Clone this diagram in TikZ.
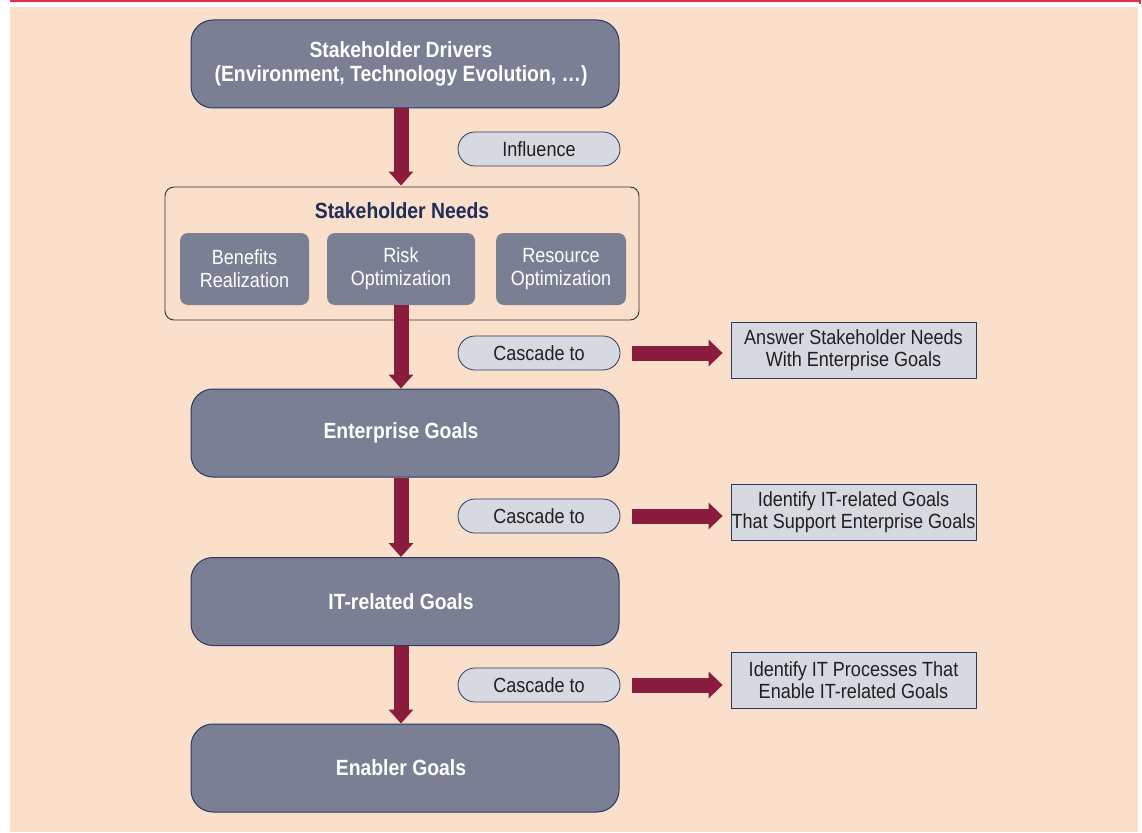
\documentclass[tikz,border=0pt]{standalone}
\usepackage{fontspec}
\setmainfont{Liberation Sans}[FakeStretch=0.88]
\usetikzlibrary{arrows.meta}
\definecolor{bg}{HTML}{FADFCA}
\definecolor{boxgrey}{HTML}{7A7F93}
\definecolor{navy}{HTML}{2B3868}
\definecolor{maroon}{HTML}{8A1C3E}
\definecolor{pill}{HTML}{D6D9DF}
\definecolor{topred}{HTML}{E2304A}
\definecolor{titlenavy}{HTML}{1F2C5C}
\definecolor{ink}{HTML}{231F20}
\tikzset{
  bigbox/.style={draw=navy, line width=1pt, fill=boxgrey, rounded corners=22pt,
    minimum width=428pt, minimum height=88pt, inner sep=0pt},
  bigtext/.style={text=white, font=\fontsize{22}{24.5}\selectfont\bfseries, align=center, inner sep=0pt},
  subbox/.style={fill=boxgrey, rounded corners=8pt, minimum height=72pt, text=white,
    font=\fontsize{20.5}{23}\selectfont, align=center, inner sep=0pt},
  pillbox/.style={draw=navy, line width=0.8pt, fill=pill, rounded corners=17pt,
    minimum width=162pt, minimum height=34pt, font=\fontsize{20.5}{22}\selectfont, text=ink, inner sep=0pt},
  notebox/.style={draw=navy, line width=0.8pt, fill=pill, minimum width=245pt, minimum height=56pt,
    font=\fontsize{20.5}{22}\selectfont, align=center, text=ink, inner sep=0pt},
  varrow/.style={draw=maroon, line width=15pt, -{Triangle[width=24pt,length=14pt]}, shorten >=0pt},
  harrow/.style={draw=maroon, line width=15pt, -{Triangle[width=26pt,length=14pt]}},
}
\begin{document}
\begin{tikzpicture}[x=1pt,y=-1pt]
\useasboundingbox (0,0) rectangle (1142,832);
\fill[white] (0,0) rectangle (1142,832);
\fill[bg] (10,7) rectangle (1138,832);
\draw[topred, line width=2.2pt] (10,1.1) -- (1140,1.1) -- (1140,4);

% main column
\node[bigbox] (drivers) at (405,64) {};
\node[bigtext] (driverstext) at ([xshift=-4pt]drivers.center) {Stakeholder Drivers\\(Environment, Technology Evolution, \dots)};
\node[draw=black!80, line width=0.9pt, rounded corners=9pt, minimum width=474pt, minimum height=133pt, inner sep=0pt] (needs) at (402,253.5) {};
\node[text=titlenavy, font=\fontsize{22}{24}\selectfont\bfseries] (needstitle) at (402,211) {Stakeholder Needs};
\node[subbox, minimum width=129pt] (benefits) at (244.5,269) {Benefits\\Realization};
\node[subbox, minimum width=148pt] (risk) at (401,269) {Risk\\Optimization};
\node[subbox, minimum width=130pt] (resource) at (561,269) {Resource\\Optimization};
\node[bigbox] (enterprise) at (405,433) {};
\node[bigtext] (enterprisetext) at ([xshift=-4pt]enterprise.center) {Enterprise Goals};
\node[bigbox] (itgoals) at (405,601.5) {};
\node[bigtext] (itgoalstext) at ([xshift=-4pt]itgoals.center) {IT-related Goals};
\node[bigbox] (enabler) at (405,768) {};
\node[bigtext] (enablertext) at ([xshift=-4pt]enabler.center) {Enabler Goals};

% vertical arrows
\draw[varrow] (drivers.south -| risk.north) -- ([yshift=1pt]needs.north -| risk.north);
\draw[varrow] (risk.south) -- (enterprise.north -| risk.south);
\draw[varrow] (enterprise.south -| risk.south) -- (itgoals.north -| risk.south);
\draw[varrow] (itgoals.south -| risk.south) -- (enabler.north -| risk.south);

% pills
\node[pillbox] (influence) at (539,149) {Influence};
\node[pillbox] (cascade1) at (539,353) {Cascade to};
\node[pillbox] (cascade2) at (539,516) {Cascade to};
\node[pillbox] (cascade3) at (539,685) {Cascade to};

% notes
\node[notebox] (note1) at (853.5,350) {Answer Stakeholder Needs\\With Enterprise Goals};
\node[notebox] (note2) at (853.5,512.5) {Identify IT-related Goals\\That Support Enterprise Goals};
\node[notebox] (note3) at (853.5,680.5) {Identify IT Processes That\\Enable IT-related Goals};

% horizontal arrows
\draw[harrow] ([xshift=12pt]cascade1.east) -- ([xshift=-8pt]cascade1.east -| note1.west);
\draw[harrow] ([xshift=12pt]cascade2.east) -- ([xshift=-8pt]cascade2.east -| note2.west);
\draw[harrow] ([xshift=12pt]cascade3.east) -- ([xshift=-8pt]cascade3.east -| note3.west);
\end{tikzpicture}
\end{document}
